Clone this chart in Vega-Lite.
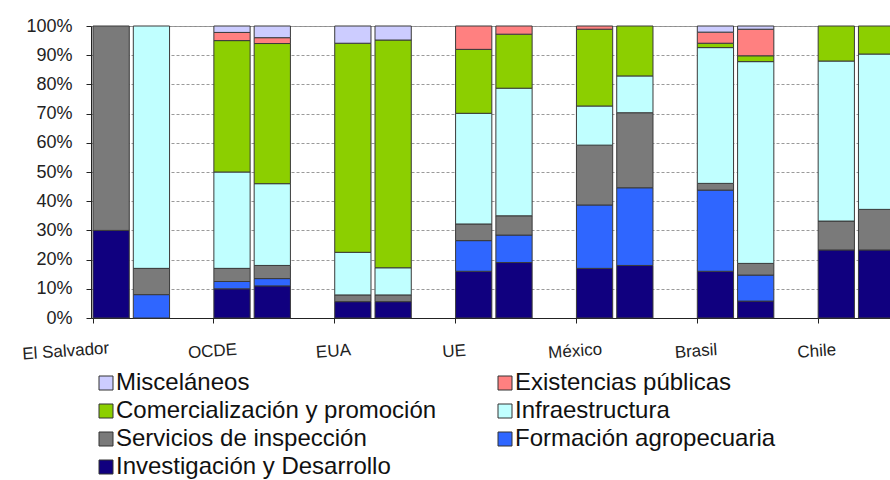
{
  "$schema": "https://vega.github.io/schema/vega-lite/v6.json",
  "autosize": "none",
  "width": 799,
  "height": 292,
  "padding": {"left": 91, "top": 26, "right": 0, "bottom": 162},
  "background": "white",
  "config": {
    "view": {"stroke": "#8a8a8a", "strokeWidth": 1},
    "font": "Liberation Sans"
  },
  "data": {
    "values": [
      {"pais": "El Salvador", "serie": 1, "rubro": "Investigación y Desarrollo", "valor": 30},
      {"pais": "El Salvador", "serie": 1, "rubro": "Servicios de inspección", "valor": 70},
      {"pais": "El Salvador", "serie": 2, "rubro": "Formación agropecuaria", "valor": 8},
      {"pais": "El Salvador", "serie": 2, "rubro": "Servicios de inspección", "valor": 9},
      {"pais": "El Salvador", "serie": 2, "rubro": "Infraestructura", "valor": 83},

      {"pais": "OCDE", "serie": 1, "rubro": "Investigación y Desarrollo", "valor": 10},
      {"pais": "OCDE", "serie": 1, "rubro": "Formación agropecuaria", "valor": 2.5},
      {"pais": "OCDE", "serie": 1, "rubro": "Servicios de inspección", "valor": 4.5},
      {"pais": "OCDE", "serie": 1, "rubro": "Infraestructura", "valor": 33},
      {"pais": "OCDE", "serie": 1, "rubro": "Comercialización y promoción", "valor": 45},
      {"pais": "OCDE", "serie": 1, "rubro": "Existencias públicas", "valor": 2.8},
      {"pais": "OCDE", "serie": 1, "rubro": "Misceláneos", "valor": 2.2},
      {"pais": "OCDE", "serie": 2, "rubro": "Investigación y Desarrollo", "valor": 11},
      {"pais": "OCDE", "serie": 2, "rubro": "Formación agropecuaria", "valor": 2.5},
      {"pais": "OCDE", "serie": 2, "rubro": "Servicios de inspección", "valor": 4.5},
      {"pais": "OCDE", "serie": 2, "rubro": "Infraestructura", "valor": 28},
      {"pais": "OCDE", "serie": 2, "rubro": "Comercialización y promoción", "valor": 48},
      {"pais": "OCDE", "serie": 2, "rubro": "Existencias públicas", "valor": 2},
      {"pais": "OCDE", "serie": 2, "rubro": "Misceláneos", "valor": 4},

      {"pais": "EUA", "serie": 1, "rubro": "Investigación y Desarrollo", "valor": 5.6},
      {"pais": "EUA", "serie": 1, "rubro": "Servicios de inspección", "valor": 2.3},
      {"pais": "EUA", "serie": 1, "rubro": "Infraestructura", "valor": 14.6},
      {"pais": "EUA", "serie": 1, "rubro": "Comercialización y promoción", "valor": 71.6},
      {"pais": "EUA", "serie": 1, "rubro": "Misceláneos", "valor": 5.9},
      {"pais": "EUA", "serie": 2, "rubro": "Investigación y Desarrollo", "valor": 5.6},
      {"pais": "EUA", "serie": 2, "rubro": "Servicios de inspección", "valor": 2.3},
      {"pais": "EUA", "serie": 2, "rubro": "Infraestructura", "valor": 9.3},
      {"pais": "EUA", "serie": 2, "rubro": "Comercialización y promoción", "valor": 78},
      {"pais": "EUA", "serie": 2, "rubro": "Misceláneos", "valor": 4.8},

      {"pais": "UE", "serie": 1, "rubro": "Investigación y Desarrollo", "valor": 16},
      {"pais": "UE", "serie": 1, "rubro": "Formación agropecuaria", "valor": 10.5},
      {"pais": "UE", "serie": 1, "rubro": "Servicios de inspección", "valor": 5.7},
      {"pais": "UE", "serie": 1, "rubro": "Infraestructura", "valor": 37.9},
      {"pais": "UE", "serie": 1, "rubro": "Comercialización y promoción", "valor": 21.9},
      {"pais": "UE", "serie": 1, "rubro": "Existencias públicas", "valor": 8},
      {"pais": "UE", "serie": 2, "rubro": "Investigación y Desarrollo", "valor": 19},
      {"pais": "UE", "serie": 2, "rubro": "Formación agropecuaria", "valor": 9.4},
      {"pais": "UE", "serie": 2, "rubro": "Servicios de inspección", "valor": 6.6},
      {"pais": "UE", "serie": 2, "rubro": "Infraestructura", "valor": 43.7},
      {"pais": "UE", "serie": 2, "rubro": "Comercialización y promoción", "valor": 18.5},
      {"pais": "UE", "serie": 2, "rubro": "Existencias públicas", "valor": 2.8},

      {"pais": "México", "serie": 1, "rubro": "Investigación y Desarrollo", "valor": 17},
      {"pais": "México", "serie": 1, "rubro": "Formación agropecuaria", "valor": 21.7},
      {"pais": "México", "serie": 1, "rubro": "Servicios de inspección", "valor": 20.5},
      {"pais": "México", "serie": 1, "rubro": "Infraestructura", "valor": 13.4},
      {"pais": "México", "serie": 1, "rubro": "Comercialización y promoción", "valor": 26.3},
      {"pais": "México", "serie": 1, "rubro": "Existencias públicas", "valor": 1.1},
      {"pais": "México", "serie": 2, "rubro": "Investigación y Desarrollo", "valor": 18},
      {"pais": "México", "serie": 2, "rubro": "Formación agropecuaria", "valor": 26.6},
      {"pais": "México", "serie": 2, "rubro": "Servicios de inspección", "valor": 25.7},
      {"pais": "México", "serie": 2, "rubro": "Infraestructura", "valor": 12.6},
      {"pais": "México", "serie": 2, "rubro": "Comercialización y promoción", "valor": 17.1},

      {"pais": "Brasil", "serie": 1, "rubro": "Investigación y Desarrollo", "valor": 16},
      {"pais": "Brasil", "serie": 1, "rubro": "Formación agropecuaria", "valor": 27.8},
      {"pais": "Brasil", "serie": 1, "rubro": "Servicios de inspección", "valor": 2.3},
      {"pais": "Brasil", "serie": 1, "rubro": "Infraestructura", "valor": 46.5},
      {"pais": "Brasil", "serie": 1, "rubro": "Comercialización y promoción", "valor": 1.5},
      {"pais": "Brasil", "serie": 1, "rubro": "Existencias públicas", "valor": 3.8},
      {"pais": "Brasil", "serie": 1, "rubro": "Misceláneos", "valor": 2.1},
      {"pais": "Brasil", "serie": 2, "rubro": "Investigación y Desarrollo", "valor": 5.8},
      {"pais": "Brasil", "serie": 2, "rubro": "Formación agropecuaria", "valor": 8.9},
      {"pais": "Brasil", "serie": 2, "rubro": "Servicios de inspección", "valor": 4},
      {"pais": "Brasil", "serie": 2, "rubro": "Infraestructura", "valor": 69.1},
      {"pais": "Brasil", "serie": 2, "rubro": "Comercialización y promoción", "valor": 2},
      {"pais": "Brasil", "serie": 2, "rubro": "Existencias públicas", "valor": 9.1},
      {"pais": "Brasil", "serie": 2, "rubro": "Misceláneos", "valor": 1.1},

      {"pais": "Chile", "serie": 1, "rubro": "Investigación y Desarrollo", "valor": 23.3},
      {"pais": "Chile", "serie": 1, "rubro": "Servicios de inspección", "valor": 9.9},
      {"pais": "Chile", "serie": 1, "rubro": "Infraestructura", "valor": 54.8},
      {"pais": "Chile", "serie": 1, "rubro": "Comercialización y promoción", "valor": 12},
      {"pais": "Chile", "serie": 2, "rubro": "Investigación y Desarrollo", "valor": 23.3},
      {"pais": "Chile", "serie": 2, "rubro": "Servicios de inspección", "valor": 13.9},
      {"pais": "Chile", "serie": 2, "rubro": "Infraestructura", "valor": 53.2},
      {"pais": "Chile", "serie": 2, "rubro": "Comercialización y promoción", "valor": 9.6}
    ]
  },
  "transform": [
    {"calculate": "datum.serie == 1 ? datum.pais : datum.pais + ' #' + datum.serie", "as": "barra"},
    {"calculate": "indexof(['Investigación y Desarrollo','Formación agropecuaria','Servicios de inspección','Infraestructura','Comercialización y promoción','Existencias públicas','Misceláneos'], datum.rubro)", "as": "capa"}
  ],
  "mark": {"type": "bar", "stroke": "#3a3a3a", "strokeWidth": 1},
  "encoding": {
    "x": {
      "field": "barra",
      "type": "nominal",
      "scale": {
        "domain": [
          "El Salvador", "El Salvador #2", "El Salvador #3",
          "OCDE", "OCDE #2", "OCDE #3",
          "EUA", "EUA #2", "EUA #3",
          "UE", "UE #2", "UE #3",
          "México", "México #2", "México #3",
          "Brasil", "Brasil #2", "Brasil #3",
          "Chile", "Chile #2", "Chile #3"
        ],
        "range": [0, 846],
        "paddingInner": 0.1,
        "paddingOuter": 0.05
      },
      "axis": {
        "title": null,
        "values": ["El Salvador", "OCDE", "EUA", "UE", "México", "Brasil", "Chile"],
        "bandPosition": 0,
        "domainColor": "#222",
        "tickColor": "#222",
        "tickSize": 5,
        "labelFontSize": 17,
        "labelColor": "#222",
        "labelAngle": -4,
        "labelAlign": "center",
        "labelBaseline": "top",
        "labelPadding": 20,
        "labelFlush": false,
        "labelOverlap": false,
        "labelOffset": {"condition": {"test": "datum.value === 'El Salvador'", "value": -46}, "value": -20}
      }
    },
    "y": {
      "aggregate": "sum",
      "field": "valor",
      "type": "quantitative",
      "stack": "normalize",
      "scale": {"domain": [0, 1]},
      "axis": {
        "title": null,
        "format": ".0%",
        "values": [0, 0.1, 0.2, 0.3, 0.4, 0.5, 0.6, 0.7, 0.8, 0.9, 1],
        "grid": true,
        "gridColor": "#9a9a9a",
        "gridDash": [3, 2],
        "gridWidth": 1,
        "domainColor": "#222",
        "tickColor": "#222",
        "tickSize": 5,
        "labelFontSize": 18,
        "labelColor": "#222",
        "labelPadding": 14
      }
    },
    "order": {"field": "capa", "type": "quantitative", "sort": "ascending"},
    "color": {
      "field": "rubro",
      "type": "nominal",
      "scale": {
        "domain": [
          "Misceláneos",
          "Existencias públicas",
          "Comercialización y promoción",
          "Infraestructura",
          "Servicios de inspección",
          "Formación agropecuaria",
          "Investigación y Desarrollo"
        ],
        "range": ["#ccccff", "#ff8080", "#8ccf00", "#c0ffff", "#7a7a7a", "#2f66ff", "#10007f"]
      },
      "legend": {
        "title": null,
        "orient": "none",
        "direction": "horizontal",
        "legendX": 3,
        "legendY": 345,
        "columns": 2,
        "columnPadding": 56,
        "rowPadding": 4,
        "padding": 0,
        "symbolType": "square",
        "symbolSize": 196,
        "symbolStrokeColor": "#333",
        "symbolStrokeWidth": 1,
        "labelFontSize": 24,
        "labelColor": "#111",
        "labelOffset": -2,
        "labelLimit": 500
      }
    }
  }
}
